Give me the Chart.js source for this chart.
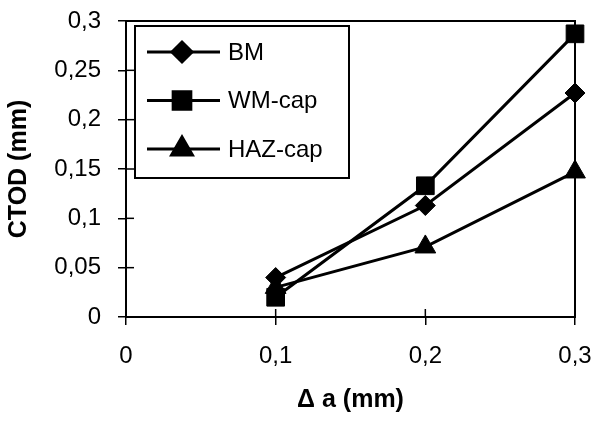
<!DOCTYPE html>
<html>
<head>
<meta charset="utf-8">
<script src="https://cdn.jsdelivr.net/npm/chart.js@4"></script>
<style>
  html, body { margin: 0; padding: 0; background: #fff; }
  #wrap { width: 600px; height: 421px; }
</style>
</head>
<body>
<div id="wrap"><canvas id="C"></canvas></div>
<script>
let crackGrowth = [0.1, 0.2, 0.3];
let bmValues = [0.040, 0.113, 0.227];
let wmCapValues = [0.020, 0.133, 0.287];
let hazCapValues = [0.030, 0.071, 0.147];
let seriesNames = ["BM", "WM-cap", "HAZ-cap"];
let markerStyles = ["rectRot", "rect", "triangle"];
let markerSizes = [10, 12.5, 12];

function toPoints(ys) {
  return crackGrowth.map((x, i) => ({ x: x, y: ys[i] }));
}

function commaLabel(v) {
  return String(+v.toFixed(2)).replace(".", ",");
}

let fontFamily = "'Liberation Sans', Arial, sans-serif";

// frame, inner tick stubs and the boxed legend
let framePlugin = {
  id: "frame",
  afterDraw(chart) {
    let ctx = chart.ctx;
    let a = chart.chartArea;
    ctx.save();
    ctx.strokeStyle = "#000";
    ctx.lineWidth = 2;
    ctx.strokeRect(a.left, a.top, a.right - a.left, a.bottom - a.top);
    ctx.lineWidth = 1.5;
    chart.scales.y.ticks.forEach(t => {
      let y = chart.scales.y.getPixelForValue(t.value);
      ctx.beginPath();
      ctx.moveTo(a.left, y);
      ctx.lineTo(a.left + 8, y);
      ctx.stroke();
    });
    chart.scales.x.ticks.forEach(t => {
      let x = chart.scales.x.getPixelForValue(t.value);
      ctx.beginPath();
      ctx.moveTo(x, a.bottom);
      ctx.lineTo(x, a.bottom - 8);
      ctx.stroke();
    });

    // legend box
    let bx = a.left + 9, by = a.top + 5, bw = 214, bh = 152;
    ctx.fillStyle = "#fff";
    ctx.fillRect(bx, by, bw, bh);
    ctx.lineWidth = 2;
    ctx.strokeRect(bx, by, bw, bh);
    ctx.font = "24px " + fontFamily;
    ctx.textBaseline = "middle";
    chart.data.datasets.forEach((ds, i) => {
      let y = by + 26 + i * 48.5;
      ctx.strokeStyle = "#000";
      ctx.fillStyle = "#000";
      ctx.lineWidth = 3;
      ctx.beginPath();
      ctx.moveTo(bx + 12, y);
      ctx.lineTo(bx + 85, y);
      ctx.stroke();
      Chart.helpers.drawPoint(ctx, {
        pointStyle: ds.pointStyle,
        radius: ds.pointRadius,
        borderWidth: 1
      }, bx + 47, y);
      ctx.fillStyle = "#000";
      ctx.fillText(ds.label, bx + 93, y + 1);
    });
    ctx.restore();
  }
};

let allValues = [bmValues, wmCapValues, hazCapValues];
let datasets = allValues.map((vals, i) => ({
  label: seriesNames[i],
  data: toPoints(vals),
  showLine: true,
  borderColor: "#000",
  backgroundColor: "#000",
  borderWidth: 3,
  pointStyle: markerStyles[i],
  pointRadius: markerSizes[i],
  pointBackgroundColor: "#000",
  pointBorderColor: "#000",
  pointBorderWidth: 1
}));

let ctxId = document.getElementById("C").getContext("2d");
let chart = new Chart(ctxId, {
  type: "scatter",
  data: { datasets: datasets },
  options: {
    responsive: true,
    maintainAspectRatio: false,
    animation: false,
    clip: false,
    layout: { padding: { top: 21, right: 25, left: 0, bottom: 0 } },
    plugins: {
      legend: { display: false },
      tooltip: { enabled: false }
    },
    scales: {
      x: {
        type: "linear",
        min: 0,
        max: 0.3,
        border: { display: false },
        grid: { drawOnChartArea: false, tickLength: 8, color: "#000", lineWidth: 1.5 },
        ticks: {
          stepSize: 0.1,
          padding: 17,
          color: "#000",
          font: { family: fontFamily, size: 24 },
          callback: v => commaLabel(v)
        },
        title: {
          display: true,
          text: "Δ a (mm)",
          color: "#000",
          font: { family: fontFamily, size: 25, weight: "bold" },
          padding: { top: 0, bottom: 6 }
        },
        afterFit: s => {
          s.height = 104;
          s.paddingLeft = 0;
          s.paddingRight = 0;
        }
      },
      y: {
        type: "linear",
        min: 0,
        max: 0.3,
        border: { display: false },
        grid: { drawOnChartArea: false, tickLength: 8, color: "#000", lineWidth: 1.5 },
        ticks: {
          stepSize: 0.05,
          padding: 17,
          color: "#000",
          font: { family: fontFamily, size: 24 },
          callback: v => commaLabel(v)
        },
        title: {
          display: true,
          text: "CTOD (mm)",
          color: "#000",
          font: { family: fontFamily, size: 25, weight: "bold" },
          padding: { top: 4, bottom: 0 }
        },
        afterFit: s => {
          s.width = 126;
          s.paddingTop = 0;
          s.paddingBottom = 0;
        }
      }
    }
  },
  plugins: [framePlugin]
});
</script>
</body>
</html>
